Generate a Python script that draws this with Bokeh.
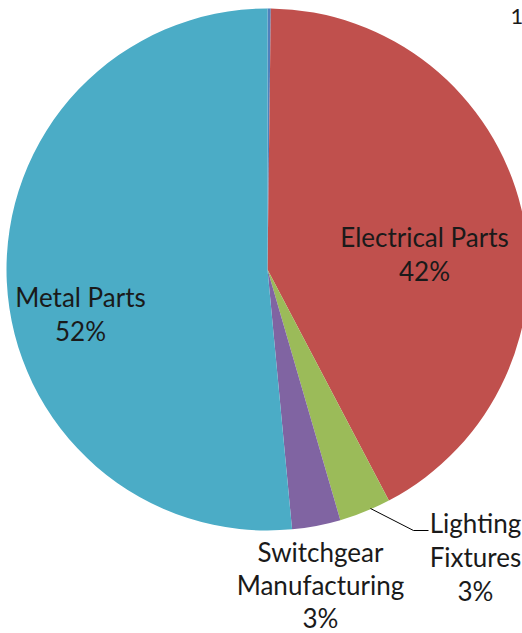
import math
from bokeh.plotting import figure
from bokeh.models import Range1d, ColumnDataSource
from bokeh.core.properties import value
from bokeh.embed import file_html
from bokeh.resources import INLINE

# ---- data ----
categories = ["Other", "Electrical Parts", "Lighting Fixtures", "Switchgear Manufacturing", "Metal Parts"]
shares = [0.2, 42.1, 3.2, 3.0, 51.5]
pct_labels = ["", "42%", "3%", "3%", "52%"]
colors = ["#4F81BD", "#C0504D", "#9BBB59", "#8064A2", "#4BACC6"]

W, H = 522, 633
cx, cy, r = 267, H - 269, 261

total = sum(shares)
starts, ends = [], []
acc = 0.0
for v in shares:
    a0 = math.pi / 2 - 2 * math.pi * acc / total
    acc += v
    a1 = math.pi / 2 - 2 * math.pi * acc / total
    starts.append(a0)
    ends.append(a1)

src = ColumnDataSource(dict(cat=categories, start=starts, end=ends, color=colors))

p = figure(width=W, height=H, x_range=Range1d(0, W), y_range=Range1d(0, H),
           output_backend="svg", toolbar_location=None, min_border=0)
p.axis.visible = False
p.grid.visible = False
p.outline_line_color = None
p.background_fill_color = "white"

p.wedge(x=cx, y=cy, radius=r, start_angle="start", end_angle="end",
        direction="clock", fill_color="color", line_color=None, source=src)

# leader line for Lighting Fixtures
p.line(x=[370, 413, 428], y=[H - 508, H - 530, H - 530], line_color="#000000", line_width=1)

font = value("Lato")
fs = "26px"
lab_x = [None, 424, 475, 320, 80]
lab_y = [None, 236, 522, 551, 296]   # first line centre
gaps = [None, 34, 34, 33, 34]
xs, ys, ts = [], [], []
for i in range(1, len(categories)):
    name = categories[i]
    if name == "Lighting Fixtures":
        lines = ["Lighting", "Fixtures", pct_labels[i]]
    elif name == "Switchgear Manufacturing":
        lines = ["Switchgear", "Manufacturing", pct_labels[i]]
    else:
        lines = [name, pct_labels[i]]
    for k, t in enumerate(lines):
        xs.append(lab_x[i])
        ys.append(H - (lab_y[i] + k * gaps[i]))
        ts.append(t)

p.text(x=xs, y=ys, text=ts, text_font=font, text_font_size=fs,
       text_align="center", text_baseline="middle", text_color="#1a1a1a")

p.text(x=[510], y=[H - 16], text=["1"], text_font=font, text_font_size="22px",
       text_align="left", text_baseline="middle", text_color="#1a1a1a")

open("out.html", "w").write(file_html(p, INLINE))
